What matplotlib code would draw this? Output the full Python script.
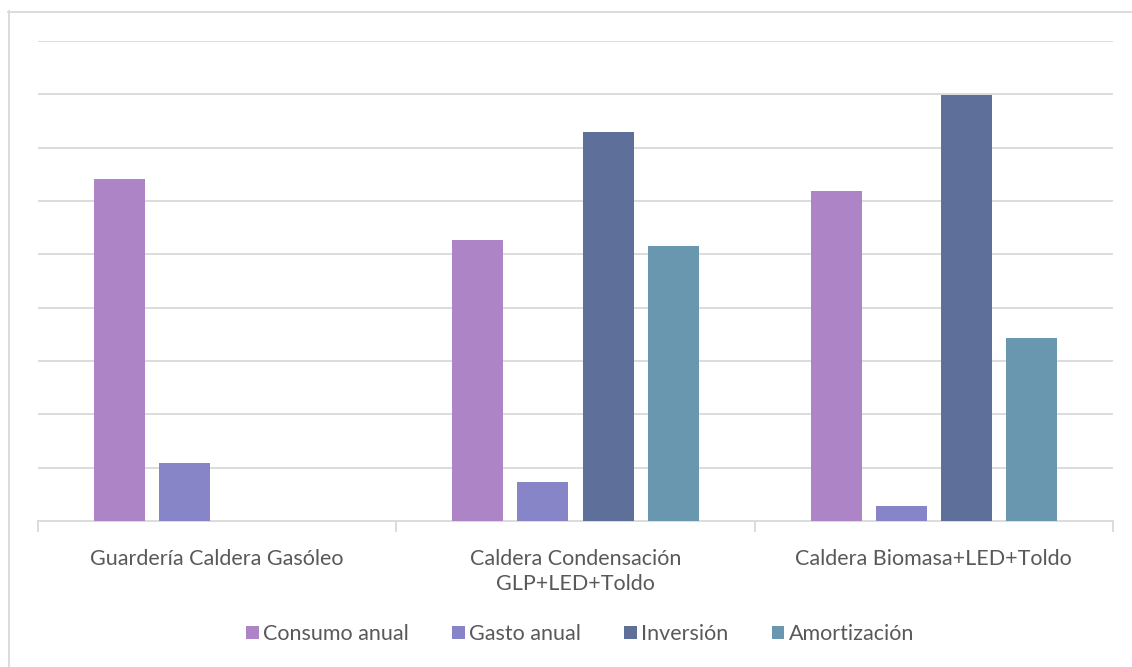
import matplotlib.pyplot as plt
import numpy as np
from matplotlib.lines import Line2D

plt.rcParams['font.family'] = ['Lato', 'DejaVu Sans']

# Data (no value axis labels in the original; scale read from gridlines)
categories = ['Guardería Caldera Gasóleo', 'Caldera Condensación\nGLP+LED+Toldo', 'Caldera Biomasa+LED+Toldo']
series_names = ['Consumo anual', 'Gasto anual', 'Inversión', 'Amortización']
consumo = [6.42, 5.27, 6.19]
gasto = [1.09, 0.73, 0.28]
inversion = [0.0, 7.30, 7.99]
amortizacion = [0.0, 5.16, 3.43]
colors = ['#AD84C6', '#8784C7', '#5E7099', '#6997AF']

W, H = 1132, 667
fig = plt.figure(figsize=(W / 100, H / 100), dpi=100)
ax = fig.add_axes([38 / W, 146 / H, (1113 - 38) / W, 480 / H])

x = np.arange(len(categories))
step = 65 / 357.5
width = 51 / 357.5
for i, (vals, name, c) in enumerate(zip([consumo, gasto, inversion, amortizacion], series_names, colors)):
    ax.bar(x + (i - 1.5) * step, vals, width, color=c, label=name, zorder=3)

ax.set_xlim(-0.5, 2.5)
ax.set_ylim(0, 9)
ax.set_yticks(np.arange(1, 10))
ax.yaxis.grid(True, color='#d9d9d9', linewidth=1.3)
ax.tick_params(axis='y', left=False, labelleft=False)
for s in ['top', 'right', 'left']:
    ax.spines[s].set_visible(False)
ax.spines['bottom'].set_color('#d9d9d9')
ax.spines['bottom'].set_linewidth(1.3)

ax.set_xticks(x)
ax.set_xticklabels(categories, fontsize=15.5, color='#595959', linespacing=1.35)
ax.tick_params(axis='x', length=0, pad=20)
ax.set_xticks([-0.5, 0.5, 1.5, 2.5], minor=True)
ax.tick_params(axis='x', which='minor', length=8, color='#d9d9d9', width=1.3)

leg = ax.legend(loc='center', bbox_to_anchor=(580 / W, 1 - 634 / H), bbox_transform=fig.transFigure,
                ncol=4, frameon=False, fontsize=15.5, handlelength=0.6, handleheight=0.6,
                handletextpad=0.2, columnspacing=2.0, labelcolor='#595959')

# outer chart border (top and left visible)
fig.add_artist(Line2D([8.5 / W, 8.5 / W], [0, 1 - 11 / H], color='#d9d9d9', linewidth=1.3, transform=fig.transFigure))
fig.add_artist(Line2D([8 / W, 1], [1 - 11.5 / H, 1 - 11.5 / H], color='#d9d9d9', linewidth=1.3, transform=fig.transFigure))

fig.savefig('out.png', dpi=100)
